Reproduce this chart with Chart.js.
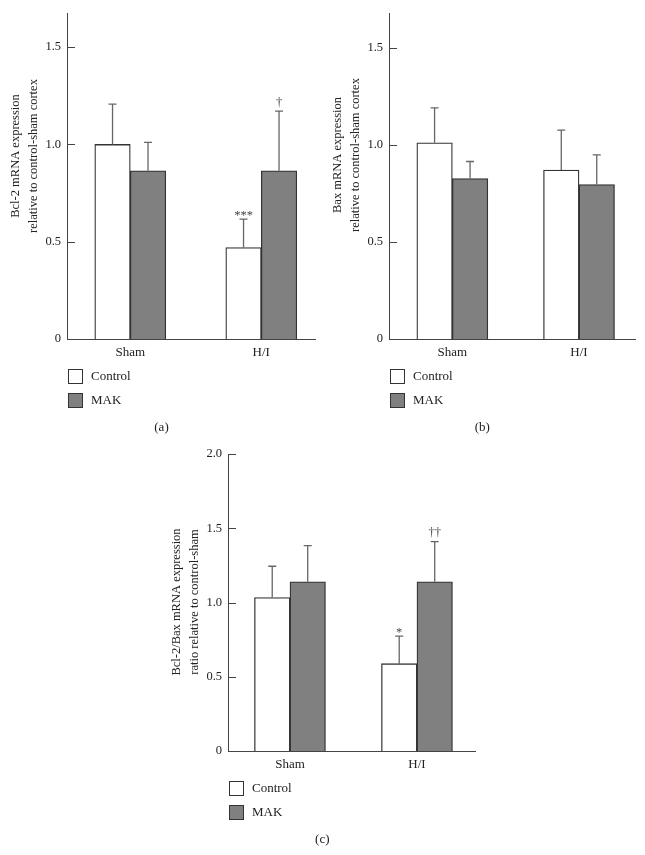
<!DOCTYPE html>
<html>
<head>
<meta charset="utf-8">
<script src="https://cdn.jsdelivr.net/npm/chart.js@4"></script>
<style>
html, body { margin: 0; padding: 0; background: #fff; }
body { width: 645px; height: 855px; position: relative; overflow: hidden; }
canvas { position: absolute; }
</style>
</head>
<body>
<canvas id="ca" width="320" height="440" style="left:0;top:0"></canvas>
<canvas id="cb" width="325" height="440" style="left:320px;top:0"></canvas>
<canvas id="cc" width="330" height="415" style="left:160px;top:440px"></canvas>
<script>
// ---- data ----
const categories = ['Sham', 'H/I'];
const seriesNames = ['Control', 'MAK'];

// (a) Bcl-2
const bcl2Control = [1.00, 0.47];
const bcl2ControlErr = [0.207, 0.146];
const bcl2Mak = [0.865, 0.865];
const bcl2MakErr = [0.146, 0.306];
const bcl2ControlSig = ['', '***'];
const bcl2MakSig = ['', '†'];

// (b) Bax
const baxControl = [1.01, 0.87];
const baxControlErr = [0.18, 0.206];
const baxMak = [0.826, 0.795];
const baxMakErr = [0.088, 0.153];
const baxControlSig = ['', ''];
const baxMakSig = ['', ''];

// (c) Bcl-2/Bax ratio
const ratioControl = [1.033, 0.588];
const ratioControlErr = [0.211, 0.185];
const ratioMak = [1.14, 1.14];
const ratioMakErr = [0.243, 0.27];
const ratioControlSig = ['', '*'];
const ratioMakSig = ['', '††'];

const yTicksAB = [0, 0.5, 1.0, 1.5];
const yTicksC = [0, 0.5, 1.0, 1.5, 2.0];

const yTitleA = ['Bcl-2 mRNA expression', 'relative to control-sham cortex'];
const yTitleB = ['Bax mRNA expression', 'relative to control-sham cortex'];
const yTitleC = ['Bcl-2/Bax mRNA expression', 'ratio relative to control-sham'];
const captions = ['(a)', '(b)', '(c)'];

// ---- style ----
const FONT = '"Liberation Serif", "Times New Roman", serif';
const TEXT = '#222222';
const AXIS = '#444444';
const ERR = '#666666';
const BAR_EDGE = '#333333';
const FILLS = ['#ffffff', '#808080'];

Chart.defaults.font.family = FONT;
Chart.defaults.font.size = 13;
Chart.defaults.color = TEXT;

function makePanel(id, p) {
  const canvas = document.getElementById(id);
  const W = canvas.width, H = canvas.height;
  const datasets = p.series.map((s, si) => ({
    label: seriesNames[si],
    data: categories.map((c, i) => ({ x: i, y: s.values[i] })),
    errors: s.errors,
    sig: s.sig,
    backgroundColor: FILLS[si],
    borderColor: BAR_EDGE,
    borderWidth: 1.3,
    barThickness: 35.5,
    grouped: true
  }));

  const decor = {
    id: 'decor_' + id,
    afterDatasetsDraw(chart) {
      const ctx = chart.ctx, ys = chart.scales.y, area = chart.chartArea;
      ctx.save();
      // inward y tick marks
      ctx.strokeStyle = AXIS; ctx.lineWidth = 1;
      ys.ticks.forEach(t => {
        const py = Math.round(ys.getPixelForValue(t.value)) + 0.5;
        ctx.beginPath(); ctx.moveTo(area.left, py); ctx.lineTo(area.left + 8, py); ctx.stroke();
      });
      // error bars and significance marks
      chart.data.datasets.forEach((ds, di) => {
        const meta = chart.getDatasetMeta(di);
        meta.data.forEach((bar, i) => {
          const topVal = ds.data[i].y + ds.errors[i];
          const py = ys.getPixelForValue(topVal);
          const bx = bar.x;
          ctx.strokeStyle = ERR; ctx.lineWidth = 1.3;
          ctx.beginPath();
          ctx.moveTo(bx, bar.y); ctx.lineTo(bx, py);
          ctx.moveTo(bx - 4, py); ctx.lineTo(bx + 4, py);
          ctx.stroke();
          const s = ds.sig && ds.sig[i];
          if (s) {
            ctx.fillStyle = '#444';
            ctx.font = '12.5px ' + FONT;
            ctx.textAlign = 'center'; ctx.textBaseline = 'alphabetic';
            const m = ctx.measureText(s);
            ctx.fillText(s, bx, py - 3.5 - m.actualBoundingBoxDescent);
          }
        });
      });
      ctx.restore();
    },
    afterDraw(chart) {
      const ctx = chart.ctx, area = chart.chartArea;
      ctx.save();
      // y-axis title (two rotated lines)
      ctx.fillStyle = TEXT;
      ctx.font = '12.5px ' + FONT;
      ctx.textAlign = 'center'; ctx.textBaseline = 'middle';
      p.title.forEach((line, li) => {
        ctx.save();
        ctx.translate(area.left - 51.5 + li * 18, p.titleY);
        ctx.rotate(-Math.PI / 2);
        ctx.fillText(line, 0, 0);
        ctx.restore();
      });
      // legend
      chart.data.datasets.forEach((ds, di) => {
        const bx = Math.round(area.left) + 1.5;
        const by = Math.round(area.bottom + 30 + di * 23.5) + 0.5;
        ctx.fillStyle = ds.backgroundColor;
        ctx.fillRect(bx, by, 14, 14);
        ctx.strokeStyle = BAR_EDGE; ctx.lineWidth = 1;
        ctx.strokeRect(bx, by, 14, 14);
        ctx.fillStyle = TEXT;
        ctx.font = '13px ' + FONT;
        ctx.textAlign = 'left'; ctx.textBaseline = 'middle';
        ctx.fillText(ds.label, bx + 22.5, by + 7.5);
      });
      // caption
      ctx.font = '13px ' + FONT;
      ctx.textAlign = 'center'; ctx.textBaseline = 'middle';
      ctx.fillText(p.caption, p.captionX, area.bottom + 89);
      ctx.restore();
    }
  };

  return new Chart(canvas, {
    type: 'bar',
    data: { datasets },
    options: {
      responsive: false,
      animation: false,
      devicePixelRatio: 1,
      layout: { padding: { left: 0, right: W - p.right, top: p.top, bottom: 0 } },
      plugins: { legend: { display: false }, tooltip: { enabled: false } },
      scales: {
        x: {
          type: 'linear',
          offset: false,
          min: p.xMin, max: p.xMax,
          grid: { display: false, drawTicks: false, offset: false },
          border: { display: true, color: AXIS, width: 1 },
          ticks: {
            padding: 6,
            color: TEXT,
            font: { size: 13 },
            callback: (v) => categories[v] !== undefined ? categories[v] : ''
          },
          afterBuildTicks: (s) => { s.ticks = categories.map((c, i) => ({ value: i })); },
          afterFit: (s) => { s.height = H - p.bottom; }
        },
        y: {
          min: 0, max: p.yMax,
          grid: { display: false, drawTicks: false },
          border: { display: true, color: AXIS, width: 1 },
          ticks: {
            padding: 6,
            color: TEXT,
            font: { size: 12.5 },
            callback: (v) => v === 0 ? '0' : v.toFixed(1)
          },
          afterBuildTicks: (s) => { s.ticks = p.yTicks.map(v => ({ value: v })); },
          afterFit: (s) => { s.width = p.left; }
        }
      }
    },
    plugins: [decor]
  });
}

makePanel('ca', {
  series: [
    { values: bcl2Control, errors: bcl2ControlErr, sig: bcl2ControlSig },
    { values: bcl2Mak, errors: bcl2MakErr, sig: bcl2MakSig }
  ],
  left: 67, right: 315, top: 8, bottom: 339,
  xMin: -0.483, xMax: 1.41, yMax: 1.673, yTicks: yTicksAB,
  title: yTitleA, titleY: 156, caption: captions[0], captionX: 161.5
});

makePanel('cb', {
  series: [
    { values: baxControl, errors: baxControlErr, sig: baxControlSig },
    { values: baxMak, errors: baxMakErr, sig: baxMakSig }
  ],
  left: 69, right: 315, top: 8, bottom: 339,
  xMin: -0.5, xMax: 1.442, yMax: 1.676, yTicks: yTicksAB,
  title: yTitleB, titleY: 155, caption: captions[1], captionX: 162.3
});

makePanel('cc', {
  series: [
    { values: ratioControl, errors: ratioControlErr, sig: ratioControlSig },
    { values: ratioMak, errors: ratioMakErr, sig: ratioMakSig }
  ],
  left: 68, right: 315, top: 14, bottom: 311,
  xMin: -0.488, xMax: 1.457, yMax: 2.0, yTicks: yTicksC,
  title: yTitleC, titleY: 162, caption: captions[2], captionX: 162.3
});
</script>
</body>
</html>
